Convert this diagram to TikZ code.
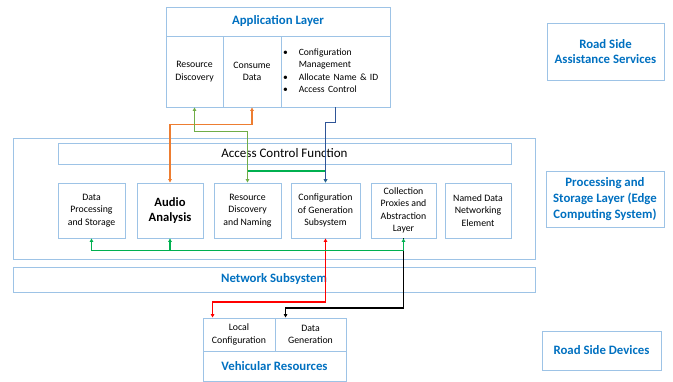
\documentclass[tikz,border=0pt]{standalone}
\usepackage{fontspec}
\setmainfont{Carlito}
\usetikzlibrary{arrows.meta,calc}
\definecolor{boxblue}{HTML}{9DC3E6}
\definecolor{titleblue}{HTML}{0070C0}
\definecolor{linkorange}{HTML}{ED7D31}
\definecolor{linkgreen}{HTML}{70AD47}
\definecolor{busgreen}{HTML}{00B050}
\definecolor{linkblue}{HTML}{2F5597}
\definecolor{linkred}{HTML}{FF0000}
\tikzset{
  box/.style={draw=boxblue, line width=0.9pt, inner sep=1pt, align=center},
  small/.style={font=\fontsize{9.8}{12.3}\selectfont},
  title/.style={font=\fontsize{12.8}{15.8}\selectfont\bfseries, text=titleblue},
  link/.style={line width=1.1pt, >={Triangle[length=3.5pt,width=3.5pt]}},
}
\begin{document}
\begin{tikzpicture}[x=1pt,y=-1pt]
\useasboundingbox (0,0) rectangle (673,382);

% application layer
\node[box,title,minimum width=224,minimum height=29] (app) at (278,21.5) {Application Layer};
\node[box,small,minimum width=57,minimum height=71] (resdisc) at (194.5,71.5) {Resource\\Discovery};
\node[box,small,minimum width=58,minimum height=71] (consume) at (252,71.5) {Consume\\Data};
\node[box,minimum width=109,minimum height=71,inner xsep=0pt,text width=105,align=left] (cfgmgmt) at (335.5,71.5)
  {\fontsize{9.6}{12.3}\selectfont\begin{tabular}{@{}l@{\hspace{11pt}}l@{}}\textbullet & Configuration\\ & Management\\ \textbullet & Allocate Name \& ID\\ \textbullet & Access Control\end{tabular}};

% processing and storage layer
\node[box,minimum width=522,minimum height=121] (proc) at (274,198.5) {};
\node[box,minimum width=453,minimum height=21,font=\fontsize{13}{15}\selectfont] (acf) at (284.5,153.5) {Access Control Function};
\node[box,small,minimum width=67,minimum height=55] (dps) at (91.5,210.5) {Data\\Processing\\and Storage};
\node[box,minimum width=66,minimum height=55,font=\fontsize{12.6}{15.7}\selectfont\bfseries] (audio) at (170,210.5) {Audio\\Analysis};
\node[box,small,minimum width=67,minimum height=55] (rdn) at (247.5,210.5) {Resource\\Discovery\\and Naming};
\node[box,small,minimum width=69,minimum height=55] (cgs) at (325.5,210.5) {Configuration\\of Generation\\Subsystem};
\node[box,small,minimum width=65,minimum height=55] (cpal) at (403.5,210.5) {Collection\\Proxies and\\Abstraction\\Layer};
\node[box,small,minimum width=66,minimum height=55] (ndn) at (478,210.5) {Named Data\\Networking\\Element};

% network subsystem
\node[box,title,minimum width=522,minimum height=25] (net) at (274,279.5) {Network Subsystem};

% vehicular resources
\node[box,small,minimum width=72,minimum height=33] (local) at (239,334.5) {Local\\Configuration};
\node[box,small,minimum width=71,minimum height=33] (datagen) at (310.5,334.5) {Data\\Generation};
\node[box,title,minimum width=143,minimum height=30] (veh) at (274.5,366) {Vehicular Resources};

% layer labels
\node[box,title,minimum width=117,minimum height=57] (rsas) at (605.5,51.5) {Road Side\\Assistance Services};
\node[box,title,minimum width=118,minimum height=56] (psl) at (605,199) {Processing and\\Storage Layer (Edge\\Computing System)};
\node[box,title,minimum width=119,minimum height=39] (rsd) at (601.5,350.5) {Road Side Devices};

% connectors
\coordinate (orangebend) at (0,124.5);
\coordinate (greenbend) at (0,131.5);
\coordinate (greenlow) at (0,171);
\coordinate (bluebend) at (0,122.5);
\coordinate (bus) at (0,250.7);
\coordinate (redbend) at (0,302);
\coordinate (blackbend) at (0,308);
\coordinate (localin) at ($(local.north west)+(10,0)$);
\coordinate (datagenin) at ($(datagen.north west)+(11,0)$);

\draw[link,linkorange,<->] (audio.north) -- (audio.north |- orangebend) -| (consume.south);
\draw[link,linkgreen,<->] (resdisc.south) -- (resdisc.south |- greenbend) -| (rdn.north);
\draw[link,busgreen,->] (rdn.north |- greenlow) -| (cgs.north);
\draw[link,linkblue,->] (cfgmgmt.south) -- (cfgmgmt.south |- bluebend) -| (cgs.north);

\draw[link,black,->] (cpal.south) -- (cpal.south |- blackbend) -| (datagenin);
\draw[link,linkred,<->] (cgs.south) -- (cgs.south |- redbend) -| (localin);
\draw[link,busgreen,<->] (dps.south) -- (dps.south |- bus) -| (cpal.south);
\draw[link,busgreen,->] (audio.south |- bus) -- (audio.south);
\end{tikzpicture}
\end{document}
